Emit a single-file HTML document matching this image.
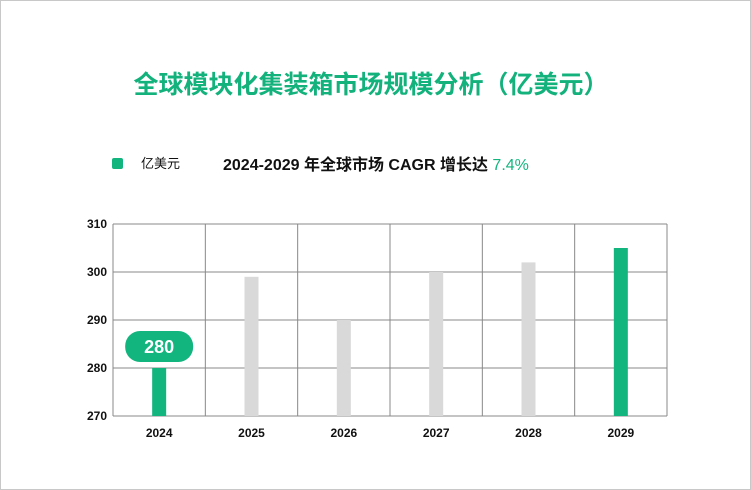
<!DOCTYPE html>
<html><head><meta charset="utf-8"><style>
body{margin:0;background:#fff;}
#wrap{position:relative;width:749px;height:488px;border:1px solid #c8c8c8;overflow:hidden;font-family:"Liberation Sans","Noto Sans CJK SC",sans-serif;}
</style></head><body>
<div id="wrap">
<svg id="svg" width="749" height="488" xmlns="http://www.w3.org/2000/svg" style="position:absolute;left:0;top:0">
<text x="370" y="92" text-anchor="middle" font-size="25" font-weight="bold" fill="#13b17b" font-family="Liberation Sans,Noto Sans CJK SC,sans-serif">全球模块化集装箱市场规模分析（亿美元）</text>
<rect x="111" y="157" width="11" height="11" rx="2" fill="#13b57e"/>
<text x="140" y="167" font-size="13" fill="#111" font-family="Liberation Sans,Noto Sans CJK SC,sans-serif">亿美元</text>
<text x="222" y="169" font-size="16" font-weight="bold" fill="#111" font-family="Liberation Sans,Noto Sans CJK SC,sans-serif">2024-2029 年全球市场 CAGR 增长达 <tspan fill="#13b57e" font-weight="normal">7.4%</tspan></text>
<g id="grid"></g><g id="bars"></g><g id="labels"></g>
</svg>
</div>
<script>
const categories=["2024","2025","2026","2027","2028","2029"];
const values=[280,299,290,300,302,305];
const highlight=[true,false,false,false,false,true];
const yTicks=[270,280,290,300,310];
const L=112,R=666,T=223,B=415,yMin=270,yMax=310;
const NS="http://www.w3.org/2000/svg";
const band=(R-L)/categories.length;
function y(v){return B-(v-yMin)/(yMax-yMin)*(B-T);}
function x(i){return L+band*i+band/2;}
function mk(t,a,p){const e=document.createElementNS(NS,t);for(const k in a)e.setAttribute(k,a[k]);p.appendChild(e);return e;}
const grid=document.getElementById('grid'),bars=document.getElementById('bars'),labels=document.getElementById('labels');
yTicks.forEach(v=>{
 const l=mk('line',{x1:L,x2:R,y1:y(v),y2:y(v),stroke:'#888','stroke-width':1},grid);
 
 
 const t=mk('text',{x:L-6,y:y(v)+4,'text-anchor':'end','font-size':12,'font-weight':'bold',fill:'#111'},grid);
 t.textContent=v;
 
 
});
for(let i=0;i<=categories.length;i++){
 const l=mk('line',{x1:L+band*i,x2:L+band*i,y1:T,y2:B,stroke:'#888','stroke-width':1},grid);
 
 
}
categories.forEach((c,i)=>{
 const r=mk('rect',{x:x(i)-7,y:y(values[i]),width:14,height:B-y(values[i]),fill:highlight[i]?'#13b57e':'#d9d9d9'},bars);
 
 
 const t=mk('text',{x:x(i),y:B+21,'text-anchor':'middle','font-size':12,'font-weight':'bold',fill:'#111'},labels);
 t.textContent=c;
 
 
});
const bx=x(0),by=y(values[0])-22;
const bub=mk('rect',{x:bx-34,y:by-15,width:68,height:31,rx:15,fill:'#13b57e'},labels);


const bt=mk('text',{x:bx,y:by+7,'text-anchor':'middle','font-size':18,'font-weight':'bold',fill:'#fff'},labels);
bt.textContent=values[0];


</script>
</body></html>
